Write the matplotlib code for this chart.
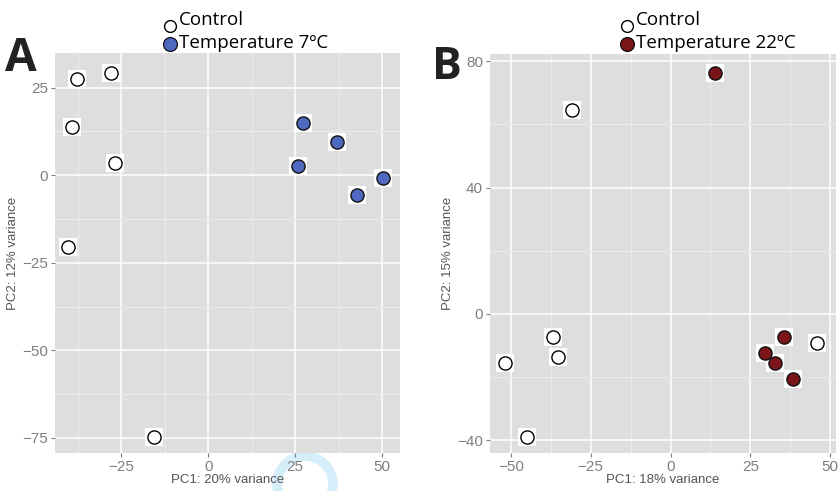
import numpy as np
import matplotlib
matplotlib.use("Agg")
import matplotlib.pyplot as plt
from matplotlib.patches import Ellipse

# panel A: PCA, control vs 7 C
a_ctrl_x = [-37.6, -28.0, -39.2, -26.8, -40.2, -15.5]
a_ctrl_y = [27.6, 29.1, 13.7, 3.4, -20.6, -74.7]
a_temp_x = [27.1, 37.1, 25.9, 42.8, 50.2]
a_temp_y = [14.9, 9.4, 2.6, -5.7, -0.9]

# panel B: PCA, control vs 22 C
b_ctrl_x = [-30.9, -36.7, -35.2, -51.8, -44.9, 45.8]
b_ctrl_y = [64.6, -7.3, -13.5, -15.6, -38.8, -9.3]
b_temp_x = [13.9, 35.4, 29.5, 32.6, 38.3]
b_temp_y = [76.4, -7.3, -12.4, -15.6, -20.7]

a_xticks = [-25, 0, 25, 50]
a_yticks = [-75, -50, -25, 0, 25]
b_xticks = [-50, -25, 0, 25, 50]
b_yticks = [-40, 0, 40, 80]

blue = "#5069c0"
red = "#7a1519"
grey_bg = "#dedede"

plt.rcParams['font.family'] = ['Liberation Sans', 'DejaVu Sans']

fig = plt.figure(figsize=(8.4, 4.91), dpi=100)
fig.patch.set_facecolor("white")


def panel(ax, cx, cy, tx, ty, tcol, xlim, ylim, xt, yt, xlab, ylab):
    ax.set_facecolor(grey_bg)
    for s in ax.spines.values():
        s.set_visible(False)
    ax.set_xticks(xt)
    ax.set_yticks(yt)
    ax.set_xticks([(xt[i] + xt[i + 1]) / 2 for i in range(len(xt) - 1)] + [xt[0] - (xt[1] - xt[0]) / 2], minor=True)
    ax.set_yticks([(yt[i] + yt[i + 1]) / 2 for i in range(len(yt) - 1)] + [yt[0] - (yt[1] - yt[0]) / 2], minor=True)
    ax.set_xticklabels([str(v).replace("-", "\u2212") for v in xt])
    ax.set_yticklabels([str(v).replace("-", "\u2212") for v in yt])
    ax.set_xlim(*xlim)
    ax.set_ylim(*ylim)
    ax.grid(which="major", color="white", linewidth=1.1)
    ax.grid(which="minor", color="#ebebeb", linewidth=0.8)
    ax.set_axisbelow(True)
    ax.tick_params(which="major", length=3, color="#7f7f7f", labelcolor="#7f7f7f",
                   labelsize=11, pad=2)
    ax.tick_params(which="minor", length=0)
    ax.set_xlabel(xlab, fontsize=9.5, color="#555555", labelpad=0)
    ax.set_ylabel(ylab, fontsize=9.5, color="#555555", labelpad=2)
    # white boxes behind points
    ax.scatter(cx + tx, cy + ty, marker="s", s=150, c="white", zorder=2, linewidths=0)
    ax.scatter(cx, cy, s=90, c="white", edgecolors="black", linewidths=1.0, zorder=3)
    ax.scatter(tx, ty, s=90, c=tcol, edgecolors="#111111", linewidths=1.0, zorder=3)


axA = fig.add_axes([0.0655, 0.0774, 0.4107, 0.8147])
panel(axA, a_ctrl_x, a_ctrl_y, a_temp_x, a_temp_y, blue, (-44, 55.1), (-79.3, 34.9),
      a_xticks, a_yticks, "PC1: 20% variance", "PC2: 12% variance")

axB = fig.add_axes([0.5833, 0.0774, 0.412, 0.812])
panel(axB, b_ctrl_x, b_ctrl_y, b_temp_x, b_temp_y, red, (-56.5, 51.8), (-44.0, 82.2),
      b_xticks, b_yticks, "PC1: 18% variance", "PC2: 15% variance")

# legends drawn as text above each panel
leg_font = ["Open Sans", "DejaVu Sans"]
for x0, lab, col in [(170, "Temperature 7\u00baC", blue), (627, "Temperature 22\u00baC", red)]:
    fig.add_artist(plt.Line2D([x0 / 840], [1 - 26 / 491], marker="o", markersize=8.5,
                              markerfacecolor="white", markeredgecolor="black",
                              markeredgewidth=1.0, linestyle="none"))
    fig.text((x0 + 9) / 840, 1 - 20 / 491, "Control", fontsize=13.5, family=leg_font,
             va="center", ha="left", color="black")
    fig.add_artist(plt.Line2D([x0 / 840], [1 - 44 / 491], marker="o", markersize=10,
                              markerfacecolor=col, markeredgecolor="black",
                              markeredgewidth=0.8, linestyle="none"))
    fig.text((x0 + 9) / 840, 1 - 43 / 491, lab, fontsize=13.5, family=leg_font,
             va="center", ha="left", color="black")

fig.text(5 / 840, 1 - 71 / 491, "A", fontsize=33, fontweight="bold", family="Open Sans",
         color="#222222", ha="left", va="baseline")
fig.text(432 / 840, 1 - 79 / 491, "B", fontsize=32, fontweight="bold", family="Open Sans",
         color="#222222", ha="left", va="baseline")

# faint blue ring artifact near bottom of panel A
ring = Ellipse((305 / 840, 1 - 484 / 491), 56 / 840, 56 / 491, transform=fig.transFigure,
               facecolor="none", edgecolor="#d6eefa", linewidth=7, zorder=-1)
fig.add_artist(ring)

fig.savefig("out.png", dpi=100)
